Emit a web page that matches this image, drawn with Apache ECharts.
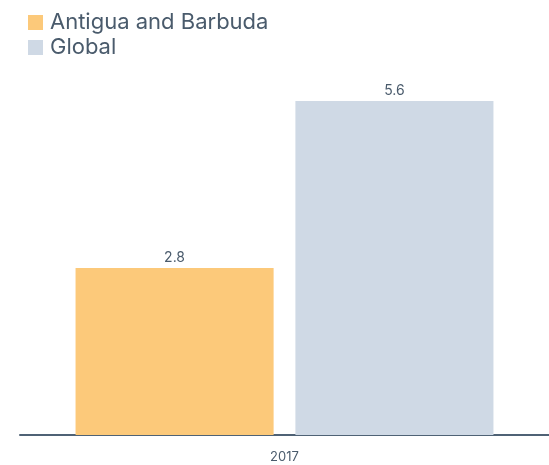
<!DOCTYPE html>
<html>
<head>
<meta charset="utf-8">
<script src="https://cdn.jsdelivr.net/npm/echarts@6/dist/echarts.min.js"></script>
<style>
  html, body { margin: 0; padding: 0; background: #fff; }
  #chart { width: 549px; height: 465px; }
</style>
</head>
<body>
<div id="chart"></div>
<script>
const categories = ['2017'];
const seriesNames = ['Antigua and Barbuda', 'Global'];
const antiguaValues = [2.8];
const globalValues = [5.6];
const colors = ['#fcc97a', '#cfd9e5'];

const textColor = '#4a5b6c';
const fontFamily = 'Inter, "Open Sans", sans-serif';

const chart = echarts.init(document.getElementById('chart'));
chart.setOption({
  animation: false,
  color: colors,
  legend: {
    orient: 'vertical',
    left: 23,
    top: 6,
    icon: 'rect',
    itemWidth: 15,
    itemHeight: 15,
    itemGap: 2,
    textStyle: { color: textColor, fontSize: 22, lineHeight: 23, fontFamily: fontFamily, padding: [0, 0, 0, 2] },
    data: seriesNames
  },
  grid: { left: 20, right: 0, top: 101, bottom: 30 },
  xAxis: {
    type: 'category',
    data: categories,
    axisLine: { lineStyle: { color: '#4f6275', width: 2 } },
    axisTick: { show: false },
    axisLabel: { color: textColor, fontSize: 13, fontFamily: fontFamily, margin: 16 }
  },
  yAxis: {
    type: 'value',
    min: 0,
    max: 5.6,
    show: false,
    splitLine: { show: false }
  },
  series: [
    {
      name: seriesNames[0],
      type: 'bar',
      data: antiguaValues,
      barGap: '11%',
      barCategoryGap: '21%',
      label: { show: true, position: 'top', color: textColor, fontSize: 14, fontFamily: fontFamily, distance: 3 }
    },
    {
      name: seriesNames[1],
      type: 'bar',
      data: globalValues,
      label: { show: true, position: 'top', color: textColor, fontSize: 14, fontFamily: fontFamily, distance: 3 }
    }
  ]
});
</script>
</body>
</html>
